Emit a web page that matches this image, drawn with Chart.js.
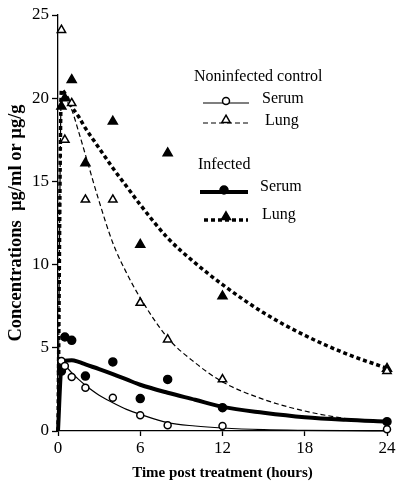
<!DOCTYPE html>
<html>
<head>
<meta charset="utf-8">
<script src="https://cdn.jsdelivr.net/npm/chart.js@4/dist/chart.umd.min.js"></script>
<style>
  html, body { margin: 0; padding: 0; background: #fff; }
  #wrap { width: 400px; height: 489px; }
</style>
</head>
<body>
<div id="wrap"><canvas id="pk-chart" width="400" height="489"></canvas></div>
<script>
// measured points (hours post treatment)
const sampleHours = [0.25, 0.5, 1, 2, 4, 6, 8, 12, 24];
const ctrlSerum = [4.2, 3.9, 3.25, 2.6, 2.0, 0.95, 0.35, 0.3, 0.1];
const ctrlLung = [24.1, 17.5, 19.7, 13.9, 13.9, 7.7, 5.5, 3.1, 3.6];
const infSerum = [3.6, 5.65, 5.45, 3.3, 4.15, 1.95, 3.1, 1.4, 0.56];
const infLung = [19.5, 20.0, 21.1, 16.1, 18.6, 11.2, 16.7, 8.1, 3.75];

// fitted curves
const fitHours = [0, 0.25, 0.5, 1, 1.5, 2, 3, 4, 5, 6, 8, 10, 12, 15, 18, 21, 24];
const ctrlSerumFit = [0, 4.15, 3.95, 3.5, 3.1, 2.75, 2.15, 1.7, 1.3, 1.0, 0.5, 0.3, 0.18, 0.08, 0.04, 0.02, 0.01];
const ctrlLungFit = [0, 20.4, 20.0, 19.3, 18.0, 16.6, 13.8, 11.3, 9.5, 8.0, 5.6, 4.1, 2.95, 1.9, 1.2, 0.75, 0.5];
const infSerumFit = [0, 3.9, 4.22, 4.25, 4.15, 4.0, 3.72, 3.42, 3.1, 2.78, 2.3, 1.88, 1.45, 1.1, 0.83, 0.67, 0.56];
const infLungFit = [0, 20.5, 20.3, 19.5, 18.9, 18.2, 17.0, 15.8, 14.7, 13.6, 11.6, 10.1, 8.8, 7.1, 5.75, 4.65, 3.77];

const xTicks = [0, 6, 12, 18, 24];
const yTicks = [0, 5, 10, 15, 20, 25];

const serif = "'Liberation Serif', 'DejaVu Serif', serif";

const styles = {
  ctrlSerum: { width: 1.2, dash: [], marker: 'circle', r: 3.5, fill: '#fff' },
  ctrlLung: { width: 1.2, dash: [5, 3], marker: 'triangle', r: 4.8, fill: '#fff' },
  infSerum: { width: 4, dash: [], marker: 'circle', r: 4, fill: '#000' },
  infLung: { width: 3.5, dash: [4, 3], marker: 'triangle', r: 5.2, fill: '#000' }
};

function pts(xs, ys) {
  return xs.map((x, i) => ({ x, y: ys[i] }));
}

function markerSet(label, ys, st) {
  return {
    label,
    data: pts(sampleHours, ys),
    showLine: false,
    pointStyle: st.marker,
    pointRadius: st.r,
    pointBackgroundColor: st.fill,
    pointBorderColor: '#000',
    pointBorderWidth: 1.5,
    clip: false
  };
}

function curveSet(label, ys, st) {
  return {
    label,
    data: pts(fitHours, ys),
    borderColor: '#000',
    borderWidth: st.width,
    borderDash: st.dash,
    pointRadius: 0,
    cubicInterpolationMode: 'monotone',
    fill: false,
    clip: false
  };
}

const legendRows = [
  { kind: 'head', text: 'Noninfected control', x: 194, y: 77 },
  { kind: 'row', key: 'ctrlSerum', text: 'Serum', x1: 203, x2: 249, y: 103, tx: 262, ty: 99 },
  { kind: 'row', key: 'ctrlLung', text: 'Lung', x1: 203, x2: 249, y: 123, tx: 265, ty: 121 },
  { kind: 'head', text: 'Infected', x: 198, y: 165 },
  { kind: 'row', key: 'infSerum', text: 'Serum', x1: 200, x2: 248, y: 192, tx: 260, ty: 187 },
  { kind: 'row', key: 'infLung', text: 'Lung', x1: 204, x2: 248, y: 220, tx: 262, ty: 215 }
];

const legendPlugin = {
  id: 'pkLegend',
  afterDraw(chart) {
    const ctx = chart.ctx;
    ctx.save();
    ctx.fillStyle = '#000';
    ctx.font = `16px ${serif}`;
    ctx.textBaseline = 'middle';
    ctx.textAlign = 'left';
    legendRows.forEach((row) => {
      if (row.kind === 'head') {
        ctx.fillText(row.text, row.x, row.y);
        return;
      }
      const st = styles[row.key];
      ctx.strokeStyle = '#000';
      ctx.lineWidth = st.width;
      ctx.setLineDash(st.dash);
      ctx.beginPath();
      ctx.moveTo(row.x1, row.y);
      ctx.lineTo(row.x2, row.y);
      ctx.stroke();
      ctx.setLineDash([]);
      ctx.fillStyle = st.fill;
      ctx.lineWidth = 1.5;
      const cx = (row.x1 + row.x2) / 2;
      const cy = st.marker === 'circle' ? row.y - 2 : row.y - 3;
      Chart.helpers.drawPoint(ctx, { pointStyle: st.marker, radius: st.r, borderWidth: 1.5 }, cx, cy);
      ctx.fillStyle = '#000';
      ctx.fillText(row.text, row.tx, row.ty);
    });
    ctx.restore();
  }
};

function init() {
  const ctx = document.getElementById('pk-chart').getContext('2d');
  new Chart(ctx, {
    type: 'line',
    data: {
      datasets: [
        markerSet('Noninfected serum', ctrlSerum, styles.ctrlSerum),
        markerSet('Noninfected lung', ctrlLung, styles.ctrlLung),
        markerSet('Infected serum', infSerum, styles.infSerum),
        markerSet('Infected lung', infLung, styles.infLung),
        curveSet('Noninfected serum fit', ctrlSerumFit, styles.ctrlSerum),
        curveSet('Noninfected lung fit', ctrlLungFit, styles.ctrlLung),
        curveSet('Infected serum fit', infSerumFit, styles.infSerum),
        curveSet('Infected lung fit', infLungFit, styles.infLung)
      ]
    },
    plugins: [legendPlugin],
    options: {
      animation: false,
      responsive: false,
      layout: { padding: { top: 15, right: 13, left: 0, bottom: 0 } },
      scales: {
        x: {
          type: 'linear',
          min: 0,
          max: 24,
          afterFit: (s) => { s.height = 58; },
          afterBuildTicks: (s) => { s.ticks = xTicks.map((v) => ({ value: v })); },
          border: { color: '#000', width: 1.3 },
          grid: { drawOnChartArea: false, tickLength: 5, color: '#000', tickWidth: 1.3 },
          ticks: { color: '#000', padding: 2, font: { family: serif, size: 17 } },
          title: {
            display: true,
            text: 'Time post treatment (hours)',
            color: '#000',
            padding: { top: 0, bottom: 7 },
            font: { family: serif, size: 15, weight: 'bold' }
          }
        },
        y: {
          type: 'linear',
          min: 0,
          max: 25,
          afterFit: (s) => { s.width = 58; },
          afterBuildTicks: (s) => { s.ticks = yTicks.map((v) => ({ value: v })); },
          border: { color: '#000', width: 1.3 },
          grid: { drawOnChartArea: false, tickLength: 6, color: '#000', tickWidth: 1.3 },
          ticks: { color: '#000', padding: 3, font: { family: serif, size: 17 } },
          title: {
            display: true,
            text: 'Concentrations  \u00b5g/ml or \u00b5g/g',
            color: '#000',
            padding: { top: 5, bottom: 0 },
            font: { family: serif, size: 18.5, weight: 'bold' }
          }
        }
      },
      plugins: {
        legend: { display: false },
        tooltip: { enabled: false }
      }
    }
  });
}

document.addEventListener('DOMContentLoaded', init);
</script>
</body>
</html>
